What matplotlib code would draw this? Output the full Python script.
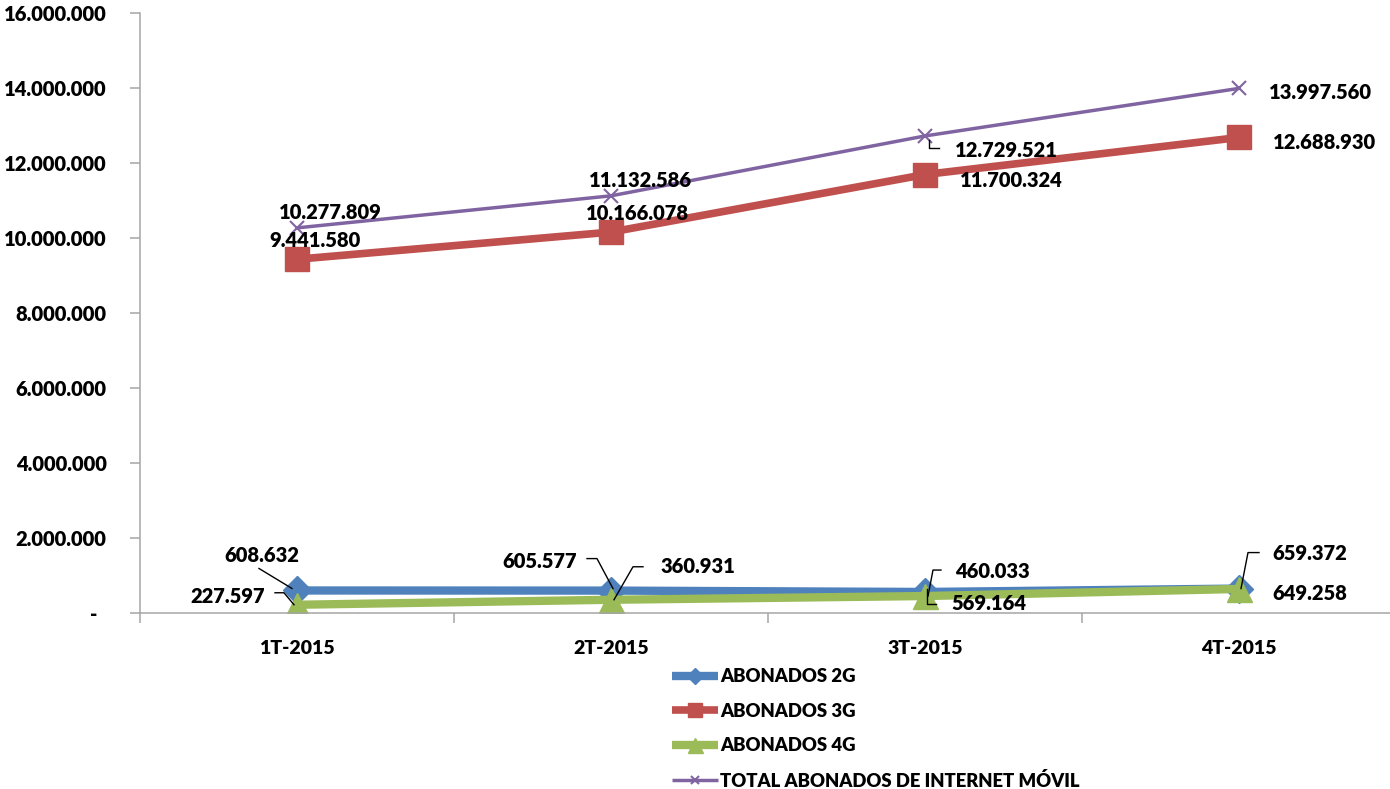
import matplotlib
matplotlib.use("Agg")
import matplotlib.pyplot as plt
import matplotlib.ticker as mticker
from matplotlib.lines import Line2D
from matplotlib.transforms import Affine2D

# data
quarters = ["1T-2015", "2T-2015", "3T-2015", "4T-2015"]
abonados_2g = [608632, 605577, 569164, 659372]
abonados_3g = [9441580, 10166078, 11700324, 12688930]
abonados_4g = [227597, 360931, 460033, 649258]
total_movil = [10277809, 11132586, 12729521, 13997560]

series_names = ["ABONADOS 2G", "ABONADOS 3G", "ABONADOS 4G",
                "TOTAL ABONADOS DE INTERNET MÓVIL"]

# label placement: (dx, dy) of text centre in pixels (dy positive = down),
# optional leader polyline in pixels relative to the point
label_pos = {
    0: [((-35, -35), [(-38, -22), (-5, -2)]),
        ((-71, -29), [(-24, -32), (-14, -32), (2, -2)]),
        ((64, 12), [(11, 12), (2, 12), (2, -3)]),
        ((71, -35), [(20, -36), (9, -36), (2, 0)])],
    1: [((18, -19), None), ((27, -19), None), ((86, 6), None), ((86, 5), None)],
    2: [((-69, -8), [(-22, -12), (-13, -12), (-3, 0)]),
        ((87, -33), [(32, -33), (22, -33), (3, 0)]),
        ((67, -25), [(16, -26), (8, -26), (3, 0)]),
        ((71, 5), None)],
    3: [((33, -15), None), ((30, -15), None),
        ((81, 15), [(14, 12), (4, 12), (4, 4)]), ((81, 4), None)],
}

plt.rcParams["font.family"] = ["Lato", "DejaVu Sans"]
plt.rcParams["font.weight"] = "heavy"

fig = plt.figure(figsize=(13.9, 7.89), dpi=100)
# the category axis runs a little past the right edge, as in the original
ax = fig.add_axes([140 / 1390, (789 - 613.3) / 789, 1256 / 1390, 600 / 789])

x = list(range(len(quarters)))
styles = [
    dict(color="#4F81BD", lw=6, marker="D", ms=14),
    dict(color="#C0504D", lw=5.5, marker="s", ms=17),
    dict(color="#9BBB59", lw=6, marker="^", ms=18),
    dict(color="#8064A2", lw=2.5, marker="x", ms=10, mew=1.5),
]
all_series = [abonados_2g, abonados_3g, abonados_4g, total_movil]

for vals, name, st in zip(all_series, series_names, styles):
    ax.plot(x, vals, label=name, solid_capstyle="butt", **st)

ax.set_xlim(-0.5, 3.5)
ax.set_ylim(0, 16000000)
ax.yaxis.set_major_locator(mticker.MultipleLocator(2000000))
ax.yaxis.set_major_formatter(mticker.FuncFormatter(
    lambda v, _: "-  " if v == 0 else f"{int(v):,}".replace(",", ".")))
ax.set_xticks(x)
ax.set_xticklabels(quarters)
ax.set_xticks([i - 0.5 for i in range(len(quarters) + 1)], minor=True)
ax.tick_params(axis="x", which="major", length=0, pad=19, labelsize=14)
ax.tick_params(axis="x", which="minor", length=7, color="#A6A6A6", width=1.1)
ax.tick_params(axis="y", length=7, color="#A6A6A6", width=1.1, pad=17,
               labelsize=14.5)

for side in ["top", "right"]:
    ax.spines[side].set_visible(False)
for side in ["left", "bottom"]:
    ax.spines[side].set_color("#A6A6A6")
    ax.spines[side].set_linewidth(1.1)

# data labels with leader lines
for s, vals in enumerate(all_series):
    for i, v in enumerate(vals):
        (dx, dy), leader = label_pos[s][i]
        txt = f"{v:,}".replace(",", ".")
        ax.annotate(txt, (i, v), xytext=(dx, -dy), textcoords="offset pixels",
                    ha="center", va="center", fontsize=14.5, color="black")
        if leader:
            px, py = ax.transData.transform((i, v))
            lx = [p[0] for p in leader]
            ly = [-p[1] for p in leader]
            ln = Line2D(lx, ly, color="black", lw=1,
                        transform=Affine2D().translate(px, py), clip_on=False)
            fig.add_artist(ln)

fig.legend(loc="upper left", bbox_to_anchor=(672 / 1390, 1 - 668 / 789),
           frameon=False, fontsize=13.3, ncol=1, handlelength=2.5,
           handletextpad=0.1, labelspacing=0.95, borderpad=0,
           borderaxespad=0, markerscale=0.6)

fig.savefig("out.png", dpi=100)
